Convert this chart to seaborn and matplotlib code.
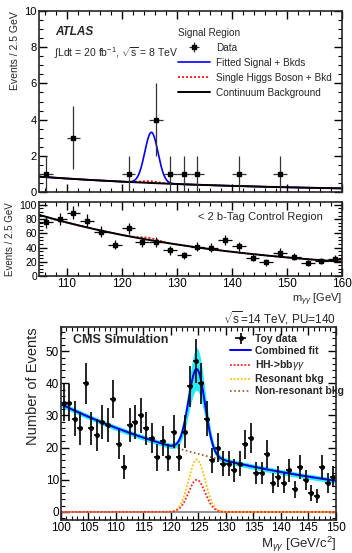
import numpy as np
import matplotlib
matplotlib.use('Agg')
import matplotlib.pyplot as plt
from matplotlib.ticker import MultipleLocator
import seaborn as sns

# ATLAS signal region, 2.5 GeV bins (empty bins are not drawn)
sr_mass = [106.25, 111.25, 121.25, 126.25, 128.75, 131.25, 133.75, 141.25, 148.75]
sr_events = [1, 3, 1, 4, 1, 1, 1, 1, 1]

# ATLAS < 2 b-tag control region
cr_mass = [106.25, 108.75, 111.25, 113.75, 116.25, 118.75, 121.25, 123.75, 126.25, 128.75, 131.25,
           133.75, 136.25, 138.75, 141.25, 143.75, 146.25, 148.75, 151.25, 153.75, 156.25, 158.75]
cr_events = [76, 80, 89, 78, 62, 44, 67, 48, 48, 36, 29,
             41, 40, 51, 42, 26, 19, 33, 27, 18, 21, 24]

# CMS toy data, 1 GeV bins
cms_mass = [100.5, 101.5, 102.5, 103.5, 104.5, 105.5, 106.5, 107.5, 108.5, 109.5,
            110.5, 111.5, 112.5, 113.5, 114.5, 115.5, 116.5, 117.5, 118.5, 119.5,
            120.5, 121.5, 122.5, 123.5, 124.5, 125.5, 126.5, 127.5, 128.5, 129.5,
            130.5, 131.5, 132.5, 133.5, 134.5, 135.5, 136.5, 137.5, 138.5, 139.5,
            140.5, 141.5, 142.5, 143.5, 144.5, 145.5, 146.5, 147.5, 148.5, 149.5]
cms_events = [34, 34, 29, 26, 40, 26, 24, 28, 27, 35,
              21, 14, 27, 28, 30, 26, 23, 17, 22, 17,
              25, 17, 25, 39, 47, 40, 29, 16, 20, 15,
              15, 13, 15, 21, 23, 12, 12, 18, 9, 11,
              9, 13, 7, 14, 10, 6, 5, 14, 9, 11]

# fit parameters
atlas_bkg = dict(norm=0.85, start=105, slope=0.0263)
atlas_sig = dict(amp=2.8, mean=125.4, sigma=1.2)
atlas_higgs = dict(amp=0.1, mean=125.0, sigma=1.6)
cr_bkg = dict(norm=86.0, start=105, slope=0.0265)
cr_higgs = dict(amp=3.0, mean=125.0, sigma=1.6)
cms_bkg = dict(norm=33.5, start=100, slope=0.0248)
cms_hh = dict(amp=10.0, mean=124.7, sigma=1.5)
cms_res = dict(amp=16.3, mean=124.7, sigma=1.5)
cms_band = dict(base=0.8, frac=0.22)


def expo(x, p):
    return p['norm'] * np.exp(-p['slope'] * (x - p['start']))


def gaus(x, p):
    return p['amp'] * np.exp(-0.5 * ((x - p['mean']) / p['sigma']) ** 2)


sns.set_style('ticks')
plt.rcParams['font.family'] = ['Liberation Sans', 'DejaVu Sans']
plt.rcParams['mathtext.fontset'] = 'custom'
plt.rcParams['mathtext.rm'] = 'Liberation Sans'
plt.rcParams['mathtext.it'] = 'Liberation Sans:italic'
plt.rcParams['mathtext.bf'] = 'Liberation Sans:bold'
plt.rcParams['axes.linewidth'] = 1.2


def root_ticks(ax, xmaj, xmin, ymaj, ymin, size=7):
    ax.xaxis.set_major_locator(MultipleLocator(xmaj))
    ax.xaxis.set_minor_locator(MultipleLocator(xmin))
    ax.yaxis.set_major_locator(MultipleLocator(ymaj))
    ax.yaxis.set_minor_locator(MultipleLocator(ymin))
    ax.tick_params(which='both', direction='in', top=True, right=True, labelsize=size,
                   colors='black', pad=1.5)
    ax.tick_params(which='major', length=6, width=1.0)
    ax.tick_params(which='minor', length=3, width=0.8)


fig = plt.figure(figsize=(3.52, 5.53), dpi=100)
ax1 = fig.add_axes([0.1108, 0.6528, 0.861, 0.3273])
ax2 = fig.add_axes([0.1108, 0.5009, 0.861, 0.1338])
ax3 = fig.add_axes([0.1733, 0.0597, 0.781, 0.349])

# ---- ATLAS signal region
xa = np.linspace(105, 160, 600)
sns.lineplot(x=xa, y=expo(xa, atlas_bkg) + gaus(xa, atlas_sig), ax=ax1, color='#0000ff',
             lw=1.2, label='Fitted Signal + Bkds')
sns.lineplot(x=xa, y=expo(xa, atlas_bkg) + gaus(xa, atlas_higgs), ax=ax1, color='red',
             lw=1.2, ls=(0, (1.2, 1.2)), label='Single Higgs Boson + Bkd')
sns.lineplot(x=xa, y=expo(xa, atlas_bkg), ax=ax1, color='black', lw=1.4,
             label='Continuum Background')
ax1.errorbar(sr_mass, sr_events, xerr=1.25, yerr=np.sqrt(sr_events), fmt='s', ms=3,
             color='black', ecolor='#333333', elinewidth=0.9, capsize=0, label='Data')
ax1.set_xlim(105, 160)
ax1.set_ylim(0, 10)
root_ticks(ax1, 10, 2, 2, 0.5, size=8)
ax1.set_xticklabels([])
ax1.set_ylabel('Events / 2.5 GeV', fontsize=7.5, loc='top', labelpad=3)
ax1.text(0.053, 0.885, 'ATLAS', transform=ax1.transAxes, fontsize=8.5, fontweight='bold',
         style='italic', va='center')
ax1.text(0.05, 0.77, r'$\int$Ldt = 20 fb$^{-1}$, $\sqrt{\mathrm{s}}$ = 8 TeV',
         transform=ax1.transAxes, fontsize=7.5, va='center')
h, l = ax1.get_legend_handles_labels()
order = [3, 0, 1, 2]
ax1.legend([h[i] for i in order], [l[i] for i in order], title='Signal Region',
           title_fontsize=7.2, fontsize=7.2, loc='upper left', bbox_to_anchor=(0.445, 0.93),
           frameon=False, handlelength=3.2, labelspacing=0.5, alignment='left',
           handletextpad=0.6, borderaxespad=0)

# ---- ATLAS control region
sns.lineplot(x=xa, y=expo(xa, cr_bkg) + gaus(xa, cr_higgs), ax=ax2, color='red', lw=1.2,
             ls=(0, (1.2, 1.2)), legend=False)
sns.lineplot(x=xa, y=expo(xa, cr_bkg), ax=ax2, color='black', lw=1.4, legend=False)
ax2.errorbar(cr_mass, cr_events, xerr=1.25, yerr=np.sqrt(cr_events), fmt='s', ms=3,
             color='black', ecolor='black', elinewidth=0.9, capsize=0)
ax2.set_xlim(105, 160)
ax2.set_ylim(0, 104)
root_ticks(ax2, 10, 2, 20, 5, size=7.5)
ax2.tick_params(axis='x', labelsize=8.5)
ax2.set_ylabel('Events / 2.5 GeV', fontsize=7, labelpad=3)
ax2.set_xlabel(r'm$_{\gamma\gamma}$ [GeV]', fontsize=8, loc='right', labelpad=1)
ax2.text(0.937, 0.80, '< 2 b-Tag Control Region', transform=ax2.transAxes, fontsize=8,
         ha='right', va='center')

# ---- CMS simulation
xc = np.linspace(100, 150, 600)
bkg = expo(xc, cms_bkg)
sig = gaus(xc, cms_hh) + gaus(xc, cms_res)
fit = bkg + sig
err = cms_band['base'] + cms_band['frac'] * sig
ax3.axhline(0, color='gray', lw=1.2)
ax3.fill_between(xc, fit - err, fit + err, color='#22eef5', lw=0)
sns.lineplot(x=xc, y=bkg, ax=ax3, color='#a0522d', lw=1.2, ls=(0, (1, 1.5)),
             label='Non-resonant bkg')
sns.lineplot(x=xc, y=gaus(xc, cms_res), ax=ax3, color='#ffc000', lw=1.3, ls=(0, (1, 1)),
             label='Resonant bkg')
sns.lineplot(x=xc, y=gaus(xc, cms_hh), ax=ax3, color='#ff2020', lw=1.3, ls=(0, (1, 1)),
             label=r'HH->bb$\gamma\gamma$')
sns.lineplot(x=xc, y=fit, ax=ax3, color='#0000ee', lw=1.4, label='Combined fit')
ax3.errorbar(cms_mass, cms_events, xerr=0.5, yerr=np.sqrt(cms_events), fmt='o', ms=2.5,
             color='black', elinewidth=1.2, capsize=0, label='Toy data')
ax3.set_xlim(100, 150)
ax3.set_ylim(-2.5, 57.5)
root_ticks(ax3, 5, 1, 10, 2, size=8.5)
ax3.set_ylabel('Number of Events', fontsize=10.5, loc='top', labelpad=4)
ax3.set_xlabel(r'M$_{\gamma\gamma}$ [GeV/c$^2$]', fontsize=9.5, loc='right')
ax3.xaxis.set_label_coords(1.0, -0.075)
ax3.text(0.044, 0.934, 'CMS Simulation', transform=ax3.transAxes, fontsize=9,
         fontweight='bold', va='center')
ax3.text(1.0, 1.045, r'$\sqrt{\mathrm{s}}$=14 TeV, PU=140', transform=ax3.transAxes,
         fontsize=8.5, ha='right', va='center')
h, l = ax3.get_legend_handles_labels()
order = [4, 3, 2, 1, 0]
leg = ax3.legend([h[i] for i in order], [l[i] for i in order], fontsize=7.5, loc='upper left',
                 bbox_to_anchor=(0.6, 0.985), frameon=False, handlelength=2.0,
                 labelspacing=0.2, handletextpad=0.4, borderaxespad=0)
for t in leg.get_texts():
    t.set_fontweight('bold')

fig.savefig('out.png', dpi=100)
